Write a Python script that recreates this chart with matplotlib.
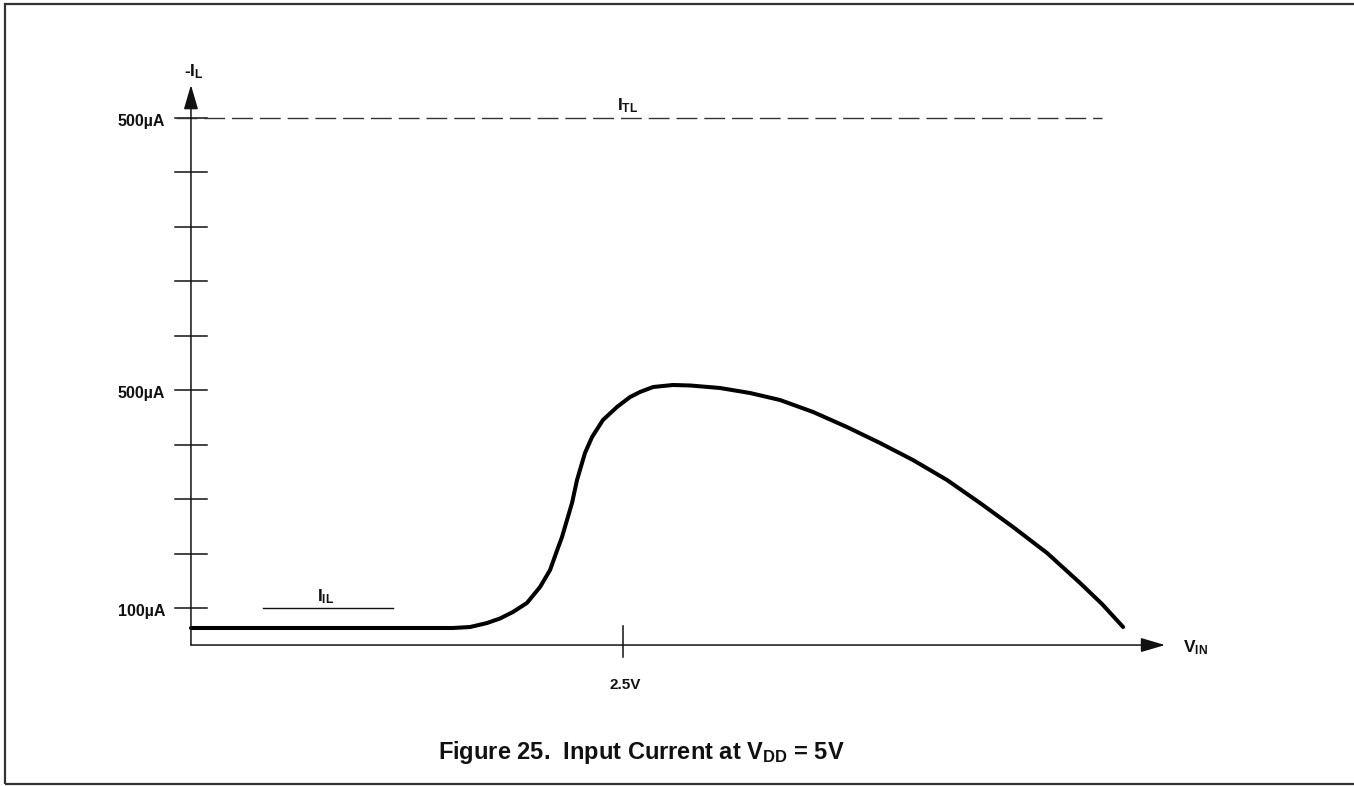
import matplotlib
matplotlib.use('Agg')
import matplotlib.pyplot as plt
from matplotlib.patches import Rectangle

plt.rcParams['font.family'] = ['Liberation Sans', 'DejaVu Sans']
plt.rcParams['mathtext.fontset'] = 'custom'
plt.rcParams['mathtext.rm'] = 'Liberation Sans:bold'
plt.rcParams['mathtext.bf'] = 'Liberation Sans:bold'
plt.rcParams['mathtext.it'] = 'Liberation Sans:bold'

# ---------------- data ----------------
vin_volts = [0.0, 1.0, 1.516, 1.615, 1.713, 1.788, 1.863, 1.944, 2.020, 2.078,
             2.112, 2.147, 2.176, 2.205, 2.234, 2.251, 2.280, 2.321, 2.384,
             2.465, 2.541, 2.598, 2.674, 2.789, 2.888, 3.061, 3.235, 3.409,
             3.600, 3.796, 3.987, 4.178, 4.375, 4.566, 4.757, 4.954, 5.145,
             5.272, 5.394]
il_ua = [63.3, 63.3, 63.3, 65.1, 72.4, 80.7, 92.7, 109.2, 138.6, 169.8,
         200.1, 230.4, 261.6, 292.9, 335.1, 353.5, 384.7, 414.1, 445.3,
         469.2, 487.5, 496.7, 505.9, 509.6, 508.7, 504.1, 494.9, 482.0,
         460.0, 432.4, 403.1, 371.8, 335.1, 292.9, 248.8, 201.0, 145.9,
         107.3, 65.1]

ytick_values = [100, 200, 300, 400, 500, 600, 700, 800, 900, 1000]
ytick_labels = ['100\u00b5A', '', '', '', '500\u00b5A', '', '', '', '', '500\u00b5A']
xtick_value = 2.5
xtick_label = '2.5V'
itl_level = 1000
itl_span = [-0.087, 5.272]
iil_level = 100
iil_span = [0.417, 1.169]
axis_origin = [0.0, 32.0]
axis_tips = [5.637, 1060.6]

title_text = 'Figure 25.  Input Current at V$_{\\mathbf{DD}}$ = 5V'

# ---------------- figure ----------------
fig = plt.figure(figsize=(13.54, 7.86), dpi=100)
ax = fig.add_axes([0, 0, 1, 1])
ax.set_xlim(-1.105, 6.730)
ax.set_ylim(-226.9, 1216.7)
ax.axis('off')

# frame border
fig.patches.append(Rectangle((5 / 1354, 2 / 786), 1.2, 780 / 786,
                             transform=fig.transFigure, fill=False,
                             edgecolor='#333333', linewidth=1.6))

axis_color = '#111111'
text_color = '#111111'
# y axis with arrow
ax.annotate('', xy=(axis_origin[0], axis_tips[1]), xytext=(axis_origin[0], axis_origin[1]),
            arrowprops=dict(arrowstyle='-|>,head_length=0.75,head_width=0.22',
                            mutation_scale=20, lw=1.1, color=axis_color,
                            shrinkA=0, shrinkB=0))
# x axis with arrow
ax.annotate('', xy=(axis_tips[0], axis_origin[1]), xytext=(axis_origin[0], axis_origin[1]),
            arrowprops=dict(arrowstyle='-|>,head_length=0.75,head_width=0.22',
                            mutation_scale=20, lw=1.1, color=axis_color,
                            shrinkA=0, shrinkB=0))

# y ticks
tick_half = 0.09
for v, lab in zip(ytick_values, ytick_labels):
    ax.plot([-tick_half, tick_half], [v, v], color=axis_color, lw=1.1)
    if lab:
        ax.text(-0.150, v - 6, lab, ha='right', va='center', fontsize=11.5,
                fontweight='bold', color=text_color)

# x tick
ax.plot([xtick_value, xtick_value], [axis_origin[1] - 22, axis_origin[1] + 35],
        color=axis_color, lw=1.1)
ax.text(xtick_value + 0.01, axis_origin[1] - 73, xtick_label, ha='center', va='center',
        fontsize=11, fontweight='bold', color=text_color)

# ITL dashed line
ax.plot(itl_span, [itl_level, itl_level], color='#333333', lw=1.0,
        linestyle=(0, (15, 5)))
ax.text(2.53, itl_level + 22, 'I$_{\\mathbf{TL}}$', ha='center', va='center',
        fontsize=12.5, fontweight='bold', color=text_color)

# IIL marker
ax.plot(iil_span, [iil_level, iil_level], color='#111111', lw=1.0)
ax.text(0.78, iil_level + 20, 'I$_{\\mathbf{IL}}$', ha='center', va='center',
        fontsize=12.5, fontweight='bold', color=text_color)

# axis labels
ax.text(0.015, 1086, '-I$_{\\mathbf{L}}$', ha='center', va='center',
        fontsize=12.5, fontweight='bold', color=text_color)
ax.text(5.815, 28, 'V$_{\\mathbf{IN}}$', ha='center', va='center',
        fontsize=12.5, fontweight='bold', color=text_color)

# curve
ax.plot(vin_volts, il_ua, color='black', lw=2.9, solid_capstyle='round',
        solid_joinstyle='round')

# title
fig.text(641 / 1354, 1 - 752 / 786, title_text, ha='center', va='center',
         fontsize=17, fontweight='bold', color=text_color)

fig.savefig('out.png', dpi=100)
